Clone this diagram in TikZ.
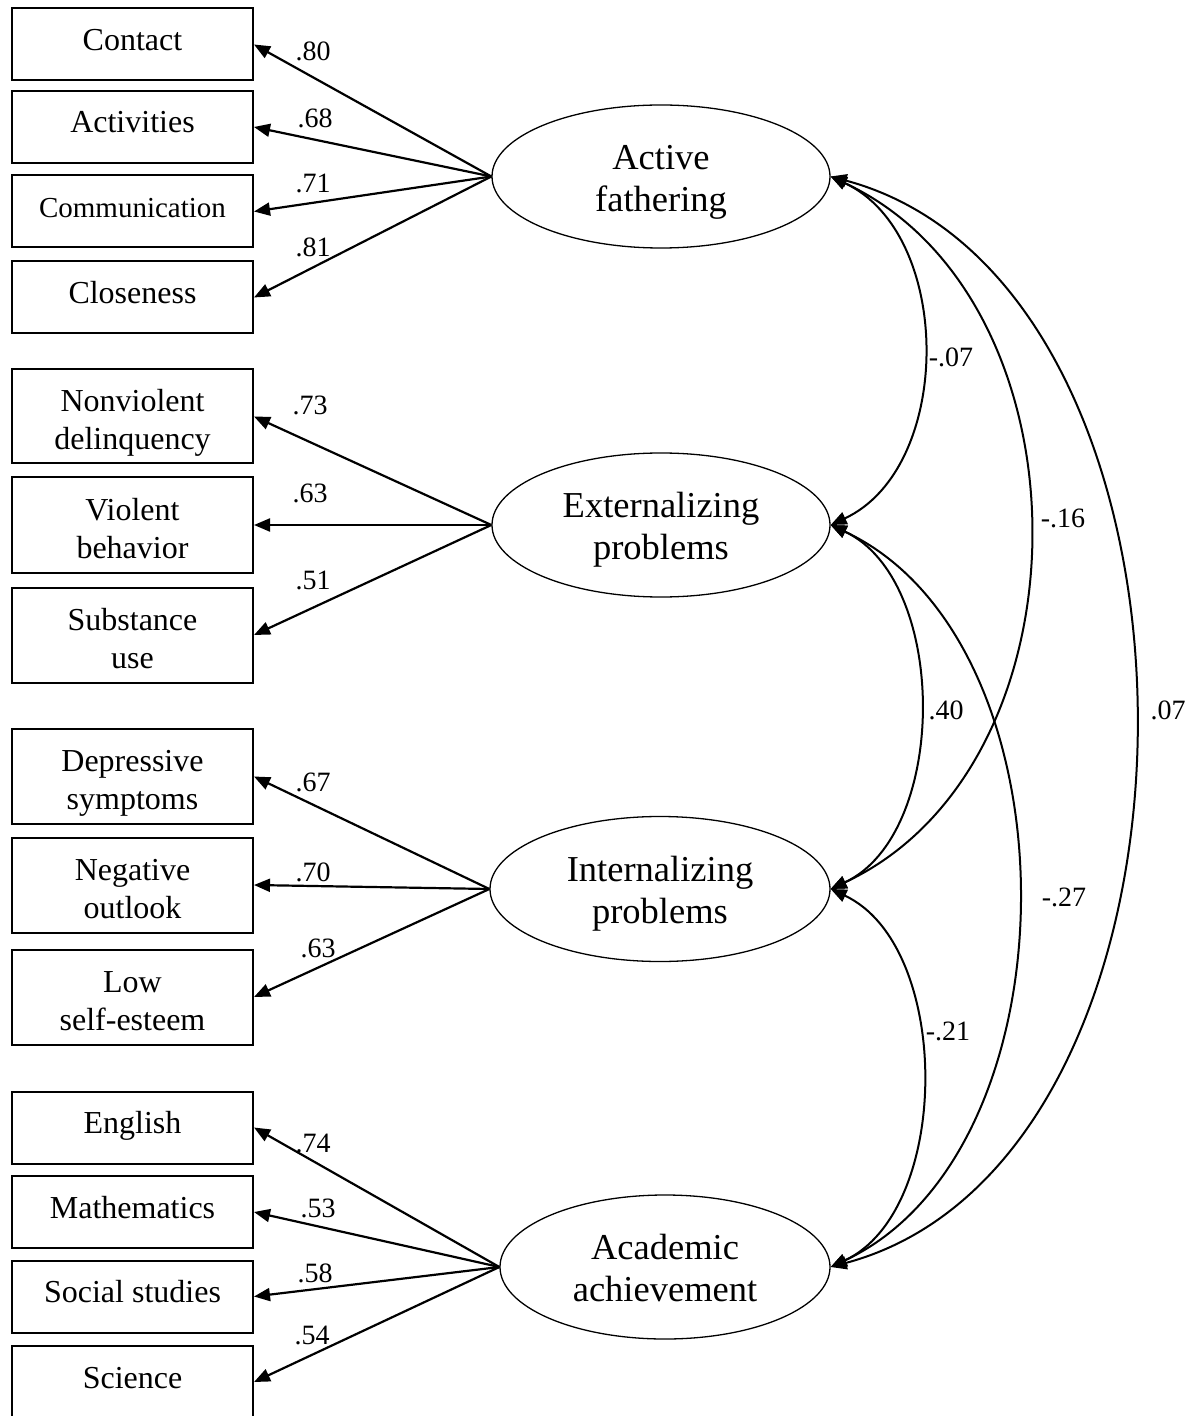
\documentclass[tikz,border=0pt]{standalone}
\usepackage{fontspec}
\setmainfont{Liberation Serif}
\usetikzlibrary{arrows.meta,shapes.geometric}

\tikzset{
  obs/.style={draw, line width=1pt, minimum width=120.5pt, minimum height=36pt, inner sep=0pt,
    text height=11pt, text depth=5pt, font=\fontsize{16}{18}\selectfont},
  obstwo/.style={draw, line width=1pt, minimum width=120.5pt, minimum height=47.5pt, inner sep=0pt,
    align=center, text height=37pt, text depth=4pt, font=\fontsize{16}{19}\selectfont},
  lat/.style={draw, ellipse, line width=0.65pt, inner sep=0pt, align=center,
    text height=38.6pt, text depth=4pt, font=\fontsize{18.25}{21}\selectfont},
  load/.style={line width=1.1pt, -{Triangle[length=8pt,width=6.5pt]}},
  cov/.style={line width=1pt, {Triangle[length=8pt,width=6.5pt]}-{Triangle[length=8pt,width=6.5pt]}},
  coef/.style={font=\fontsize{14}{16}\selectfont, inner sep=0pt},
}

\begin{document}
\begin{tikzpicture}[x=0.5pt,y=0.5pt]
  \useasboundingbox (0,0) rectangle (1195,-1416);

  % indicators
  \node[obs] (contact) at (132.5,-44.5) {Contact};
  \node[obs] (activ) at (132.5,-127) {Activities};
  \node[obs, font=\fontsize{14.5}{17}\selectfont] (commun) at (132.5,-211.5) {Communication};
  \node[obs] (close) at (132.5,-297.5) {Closeness};
  \node[obstwo, minimum height=47pt] (nonviol) at (132.5,-416.5) {Nonviolent\\delinquency};
  \node[obstwo] (violent) at (132.5,-525) {Violent\\behavior};
  \node[obstwo] (subst) at (132.5,-635) {Substance\\use};
  \node[obstwo] (depress) at (132.5,-776.5) {Depressive\\symptoms};
  \node[obstwo] (negout) at (132.5,-885) {Negative\\outlook};
  \node[obstwo] (lowse) at (132.5,-997) {Low\\self-esteem};
  \node[obs] (engl) at (132.5,-1127.5) {English};
  \node[obs] (math) at (132.5,-1212) {Mathematics};
  \node[obs] (social) at (132.5,-1296.5) {Social studies};
  \node[obs] (sci) at (132.5,-1382) {Science};

  % latent factors
  \node[lat, minimum width=169pt, minimum height=71.5pt] (af) at (661,-176.5) {Active\\fathering};
  \node[lat, minimum width=169pt, minimum height=72pt] (ep) at (661,-525) {Externalizing\\problems};
  \node[lat, minimum width=170pt, minimum height=72.5pt] (ip) at (660,-889) {Internalizing\\problems};
  \node[lat, minimum width=165pt, minimum height=72pt] (aa) at (665,-1267) {Academic\\achievement};

  % loadings
  \draw[load] (af.west) -- (contact.east);
  \draw[load] (af.west) -- (activ.east);
  \draw[load] (af.west) -- (commun.east);
  \draw[load] (af.west) -- (close.east);
  \draw[load] (ep.west) -- (nonviol.east);
  \draw[load] (ep.west) -- (violent.east);
  \draw[load] (ep.west) -- (subst.east);
  \draw[load] (ip.west) -- (depress.east);
  \draw[load] (ip.west) -- (negout.east);
  \draw[load] (ip.west) -- (lowse.east);
  \draw[load] (aa.west) -- (engl.east);
  \draw[load] (aa.west) -- (math.east);
  \draw[load] (aa.west) -- (social.east);
  \draw[load] (aa.west) -- (sci.east);

  \node[coef] (c1) at (313,-51) {.80};
  \node[coef] (c2) at (315,-118) {.68};
  \node[coef] (c3) at (313,-183) {.71};
  \node[coef] (c4) at (313,-247) {.81};
  \node[coef] (c5) at (310,-405) {.73};
  \node[coef] (c6) at (310,-493) {.63};
  \node[coef] (c7) at (313,-580) {.51};
  \node[coef] (c8) at (313,-782) {.67};
  \node[coef] (c9) at (313,-872) {.70};
  \node[coef] (c10) at (318,-948) {.63};
  \node[coef] (c11) at (313,-1143) {.74};
  \node[coef] (c12) at (318,-1208) {.53};
  \node[coef] (c13) at (315,-1273) {.58};
  \node[coef] (c14) at (312,-1335) {.54};

  % correlations
  \draw[cov] (af.east) to[out=-25,in=25,looseness=1.0] (ep.east);
  \draw[cov] (af.east) to[out=-25,in=25,looseness=1.05] (ip.east);
  \draw[cov] (af.east) to[out=-15,in=15,looseness=0.985] (aa.east);
  \draw[cov] (ep.east) to[out=-25,in=25,looseness=0.92] (ip.east);
  \draw[cov] (ep.east) to[out=-25,in=25,looseness=0.95] (aa.east);
  \draw[cov] (ip.east) to[out=-25,in=25,looseness=0.91] (aa.east);

  \node[coef] (r1) at (951,-357) {-.07};
  \node[coef] (r2) at (1063,-518) {-.16};
  \node[coef] (r3) at (1168,-710) {.07};
  \node[coef] (r4) at (946,-710) {.40};
  \node[coef] (r5) at (1064,-897) {-.27};
  \node[coef] (r6) at (948,-1031) {-.21};
\end{tikzpicture}
\end{document}
